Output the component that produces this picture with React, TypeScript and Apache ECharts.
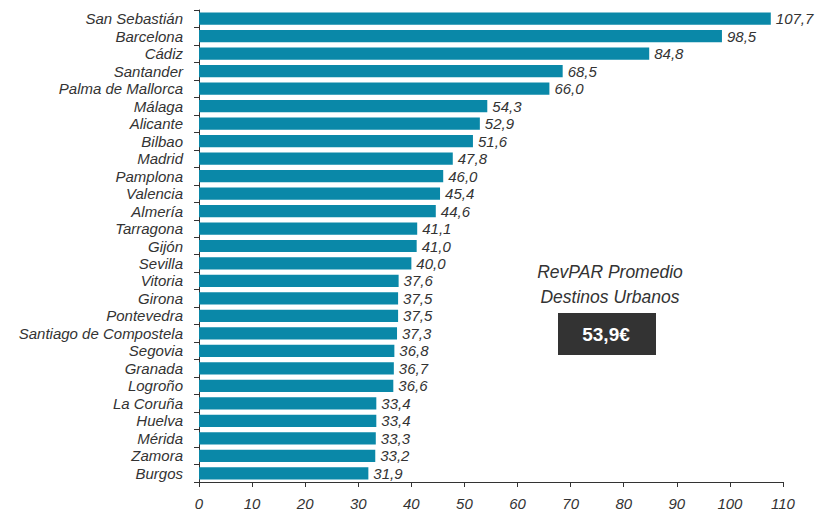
import React, { useEffect, useRef } from "react";
import * as echarts from "echarts";

const categories = [
  "San Sebastián", "Barcelona", "Cádiz", "Santander", "Palma de Mallorca", "Málaga",
  "Alicante", "Bilbao", "Madrid", "Pamplona", "Valencia", "Almería", "Tarragona",
  "Gijón", "Sevilla", "Vitoria", "Girona", "Pontevedra", "Santiago de Compostela",
  "Segovia", "Granada", "Logroño", "La Coruña", "Huelva", "Mérida", "Zamora", "Burgos",
];
const values = [
  107.7, 98.5, 84.8, 68.5, 66.0, 54.3, 52.9, 51.6, 47.8, 46.0, 45.4, 44.6, 41.1,
  41.0, 40.0, 37.6, 37.5, 37.5, 37.3, 36.8, 36.7, 36.6, 33.4, 33.4, 33.3, 33.2, 31.9,
];
const titleLines = ["RevPAR Promedio", "Destinos Urbanos"];
const averageLabel = "53,9€";

const FONT = "'Liberation Sans', Arial, Helvetica, sans-serif";

export default function App() {
  const ref = useRef<HTMLDivElement>(null);
  useEffect(() => {
    if (!ref.current) return;
    const chart = echarts.init(ref.current, null, { renderer: "svg" });
    chart.setOption({
      animation: false,
      grid: { left: 199, right: 35, top: 10, bottom: 30, containLabel: false },
      xAxis: {
        type: "value",
        min: 0,
        max: 110,
        interval: 10,
        axisLine: { show: true, lineStyle: { color: "#333", width: 1 } },
        axisTick: { show: true, length: 5, lineStyle: { color: "#333" } },
        splitLine: { show: false },
        axisLabel: {
          color: "#333",
          fontStyle: "italic",
          fontFamily: FONT,
          fontSize: 15,
          margin: 14,
        },
      },
      yAxis: {
        type: "category",
        data: categories,
        inverse: true,
        axisLine: { show: true, lineStyle: { color: "#333", width: 1 } },
        axisTick: { show: true, length: 5, lineStyle: { color: "#333" } },
        axisLabel: {
          interval: 0,
          color: "#333",
          fontStyle: "italic",
          fontFamily: FONT,
          fontSize: 15,
          margin: 16,
        },
      },
      series: [
        {
          type: "bar",
          data: values,
          barCategoryGap: "30%",
          itemStyle: { color: "#0a88a8" },
          label: {
            show: true,
            position: "right",
            distance: 5,
            color: "#333",
            fontStyle: "italic",
            fontFamily: FONT,
            fontSize: 15,
            formatter: (p: any) => p.value.toFixed(1).replace(".", ","),
          },
        },
      ],
      graphic: [
        {
          type: "text",
          x: 610,
          y: 272,
          style: {
            text: titleLines[0],
            align: "center",
            verticalAlign: "middle",
            fontFamily: FONT,
            fontStyle: "italic",
            fontSize: 17.5,
            fill: "#333",
          },
        },
        {
          type: "text",
          x: 610,
          y: 297,
          style: {
            text: titleLines[1],
            align: "center",
            verticalAlign: "middle",
            fontFamily: FONT,
            fontStyle: "italic",
            fontSize: 17.5,
            fill: "#333",
          },
        },
        {
          type: "rect",
          shape: { x: 558, y: 313, width: 98, height: 42 },
          style: { fill: "#333333" },
        },
        {
          type: "text",
          x: 606,
          y: 334,
          style: {
            text: averageLabel,
            align: "center",
            verticalAlign: "middle",
            fontFamily: FONT,
            fontWeight: "bold",
            fontSize: 19,
            fill: "#fff",
          },
        },
      ],
    });
    return () => chart.dispose();
  }, []);
  return (
    <div
      ref={ref}
      style={{ position: "absolute", left: 0, top: 0, width: 818, height: 512 }}
    />
  );
}
